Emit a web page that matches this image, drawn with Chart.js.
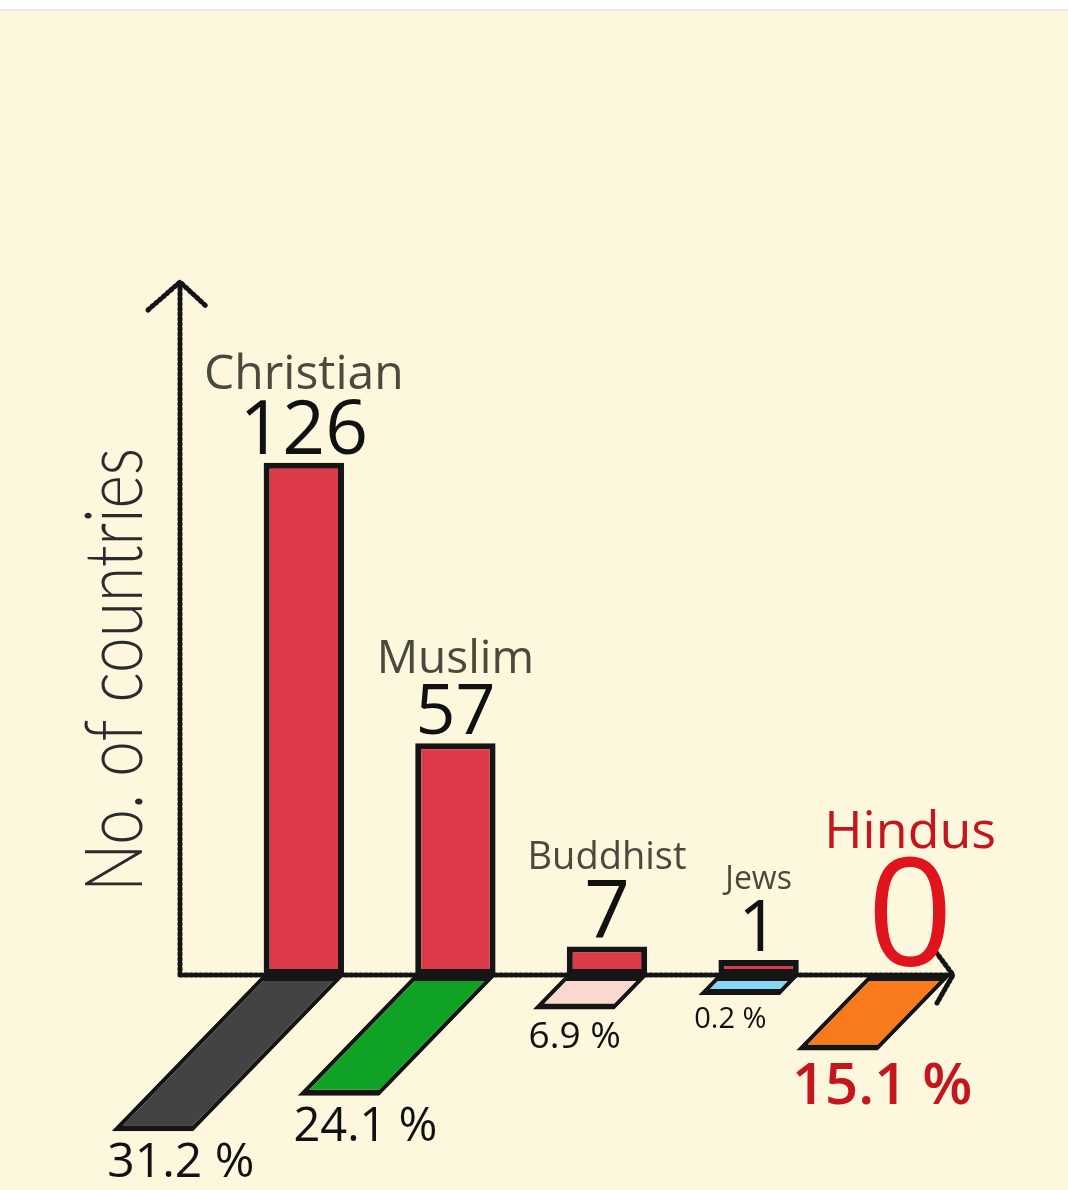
<!DOCTYPE html>
<html>
<head>
<meta charset="utf-8">
<title>No. of countries by religion</title>
<script src="https://cdn.jsdelivr.net/npm/chart.js@4.4.1/dist/chart.umd.min.js"></script>
<style>
    html, body { margin: 0; padding: 0; background: #fdf7dd; }
    canvas { display: block; }
</style>
</head>
<body>
<canvas id="grafico" width="1068" height="1190"></canvas>
<script>
// --- 1. DATOS ---
const religiones = ['Christian', 'Muslim', 'Buddhist', 'Jews', 'Hindus'];
const paises     = [126, 57, 7, 1, 0];           // no. of countries
const poblacion  = [31.2, 24.1, 6.9, 0.2, 15.1]; // % of world population
const etiquetasPct = poblacion.map(v => v + ' %');

// --- 2. ESTILOS ---
const colorBarra = '#dc3a48';
const coloresPct = ['#434343', '#0fa224', '#f9d8d0', '#86d7f6', '#f97a1d'];
const tamLabel   = [48, 46, 38, 32, 52];
const tamValor   = [75, 70, 80, 71, 150];
const tamPct     = [48, 47, 37, 29, 58];
const colorLabel = ['#4a493e', '#4a493e', '#4a493e', '#4a493e', '#c4161c'];
const colorValor = ['#111', '#111', '#111', '#111', '#e0141c'];
const colorPct   = ['#111', '#111', '#111', '#111', '#c4161c'];
const pesoPct    = [500, 500, 500, 500, 600];
const SESGO = 0.97;   // inclinación de los paralelogramos

// fondo crema con la franja blanca de arriba
const fondo = {
    id: 'fondo',
    beforeDraw(chart) {
        const ctx = chart.ctx;
        ctx.save();
        ctx.fillStyle = '#fdf7dd';
        ctx.fillRect(0, 0, chart.width, chart.height);
        ctx.fillStyle = '#ffffff';
        ctx.fillRect(0, 0, chart.width, 9);
        ctx.fillStyle = '#e9e7e0';
        ctx.fillRect(0, 9, chart.width, 2);
        ctx.restore();
    }
};

// ejes con flecha + título vertical
const ejes = {
    id: 'ejes',
    beforeDatasetsDraw(chart) {
        const { ctx, chartArea: a, scales: { y } } = chart;
        const x0 = a.left - 48;
        const y0 = y.getPixelForValue(0);
        const xFin = a.right - 33;

        ctx.save();
        ctx.strokeStyle = '#141414';
        ctx.lineWidth = 5;
        ctx.lineCap = 'round';
        ctx.lineJoin = 'round';
        ctx.setLineDash([2, 3]);

        ctx.beginPath();
        ctx.moveTo(x0, y0);
        ctx.lineTo(x0, a.top - 2);
        ctx.moveTo(x0, y0);
        ctx.lineTo(xFin, y0);
        ctx.stroke();

        ctx.beginPath();
        ctx.moveTo(x0 - 32, a.top + 26);
        ctx.lineTo(x0, a.top - 2);
        ctx.lineTo(x0 + 27, a.top + 23);
        ctx.moveTo(xFin - 20, y0 - 27);
        ctx.lineTo(xFin, y0);
        ctx.lineTo(xFin - 16, y0 + 28);
        ctx.stroke();

        // título del eje y
        ctx.setLineDash([]);
        ctx.translate(x0 - 38, y0 - 305);
        ctx.rotate(-Math.PI / 2);
        ctx.font = '300 80px Lato';
        ctx.fillStyle = '#2b2b2b';
        ctx.textAlign = 'center';
        ctx.textBaseline = 'alphabetic';
        const texto = 'No. of countries';
        const w = ctx.measureText(texto).width;
        ctx.scale(444 / w, 1);
        ctx.fillText(texto, 0, 0);
        ctx.restore();
    }
};

// paralelogramos: se dibuja el dataset de % con una transformación de corte
const sesgo = {
    id: 'sesgo',
    beforeDatasetDraw(chart, args) {
        if (args.index !== 1) return;
        const y0 = chart.scales.yPct.getPixelForValue(0);
        chart.ctx.save();
        chart.ctx.transform(1, 0, -SESGO, 1, SESGO * y0, 0);
    },
    afterDatasetDraw(chart, args) {
        if (args.index === 1) chart.ctx.restore();
    }
};

// textos: nombre + número sobre cada barra, % bajo cada paralelogramo
const rotulos = {
    id: 'rotulos',
    afterDatasetsDraw(chart) {
        const { ctx, scales: { y } } = chart;
        const barras = chart.getDatasetMeta(0).data;
        const paras  = chart.getDatasetMeta(1).data;
        ctx.save();
        ctx.textBaseline = 'alphabetic';

        barras.forEach((bar, i) => {
            const p = bar.getProps(['x', 'y'], true);
            const tope = paises[i] > 0 ? p.y : y.getPixelForValue(0);
            const baseValor = tope - 9;
            ctx.textAlign = 'center';
            ctx.fillStyle = colorValor[i];
            ctx.font = `${tamValor[i]}px "Open Sans"`;
            ctx.fillText(String(paises[i]), p.x, baseValor);

            const baseLabel = baseValor - 0.714 * tamValor[i] - 11;
            ctx.fillStyle = colorLabel[i];
            ctx.font = `${tamLabel[i]}px "Open Sans"`;
            ctx.fillText(religiones[i], p.x, baseLabel);
        });

        paras.forEach((el, i) => {
            const p = el.getProps(['x', 'y', 'base', 'width'], true);
            const izq = p.x - p.width / 2 - SESGO * (p.y - p.base);
            ctx.textAlign = 'left';
            ctx.fillStyle = colorPct[i];
            ctx.font = `${pesoPct[i]} ${tamPct[i]}px "Open Sans"`;
            ctx.fillText(etiquetasPct[i], izq - 4, p.y + 12 + 0.714 * tamPct[i]);
        });
        ctx.restore();
    }
};

new Chart(document.getElementById('grafico'), {
    type: 'bar',
    data: {
        labels: religiones,
        datasets: [
            {
                label: 'No. of countries',
                data: paises,
                yAxisID: 'y',
                grouped: false,
                backgroundColor: c => c.raw === 0 ? 'rgba(0,0,0,0)' : colorBarra,
                borderColor: '#151515',
                borderWidth: c => c.raw === 0 ? 0 : 6,
                borderSkipped: false,
                barPercentage: 0.53,
                categoryPercentage: 1,
                minBarLength: 15
            },
            {
                label: '% of world population',
                data: poblacion.map(v => -v),
                yAxisID: 'yPct',
                grouped: false,
                backgroundColor: coloresPct,
                borderColor: '#151515',
                borderWidth: 6,
                borderSkipped: false,
                barPercentage: 0.54,
                categoryPercentage: 1,
                minBarLength: 20,
                clip: false
            }
        ]
    },
    options: {
        responsive: false,
        animation: false,
        devicePixelRatio: 1,
        layout: { padding: { top: 284, bottom: 215, left: 228, right: 82 } },
        plugins: { legend: { display: false }, tooltip: { enabled: false } },
        scales: {
            x:    { display: false, offset: true },
            y:    { display: false, min: 0, max: 170 },
            yPct: { display: false, min: 0, max: 138, position: 'right' }
        }
    },
    plugins: [fondo, ejes, sesgo, rotulos]
});
</script>
</body>
</html>
